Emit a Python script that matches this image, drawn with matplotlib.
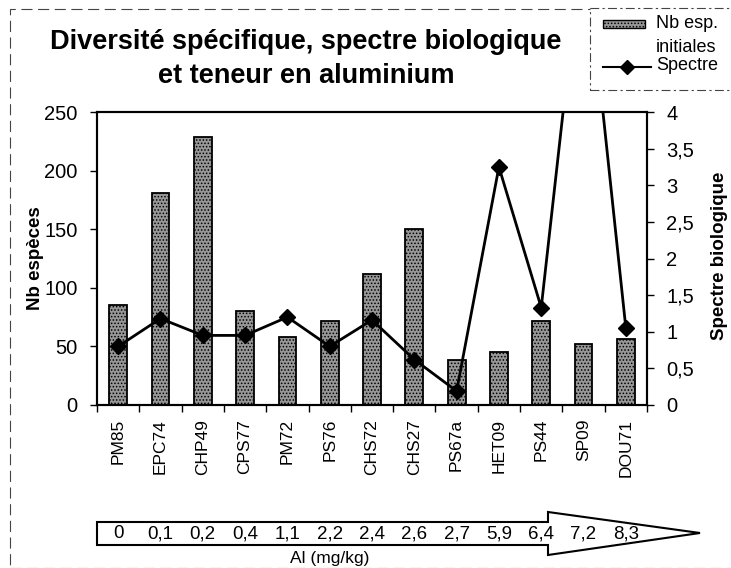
import matplotlib
matplotlib.use("Agg")
import matplotlib.pyplot as plt
import numpy as np
from matplotlib.patches import Rectangle, Polygon
from matplotlib.lines import Line2D
import matplotlib.transforms as mtransforms

plt.rcParams['font.family'] = ['Liberation Sans', 'DejaVu Sans']
plt.rcParams['hatch.linewidth'] = 0.7

# ---- data ----
sites = ["PM85", "EPC74", "CHP49", "CPS77", "PM72", "PS76", "CHS72",
         "CHS27", "PS67a", "HET09", "PS44", "SP09", "DOU71"]
nb_especes = [85, 181, 229, 80, 58, 72, 112, 150, 38, 45, 72, 52, 56]
spectre = [0.80, 1.18, 0.95, 0.95, 1.20, 0.80, 1.16, 0.62, 0.19, 3.25, 1.33, 6.5, 1.05]
al_labels = ["0", "0,1", "0,2", "0,4", "1,1", "2,2", "2,4", "2,6", "2,7",
             "5,9", "6,4", "7,2", "8,3"]
left_ticks = [0, 50, 100, 150, 200, 250]
right_ticks = [0, 0.5, 1, 1.5, 2, 2.5, 3, 3.5, 4]
right_ticklabels = ["0", "0,5", "1", "1,5", "2", "2,5", "3", "3,5", "4"]

W, H = 731, 568
fig = plt.figure(figsize=(W / 100, H / 100), dpi=100)

def fx(x):
    return x / W

def fy(y):
    return 1 - y / H

BAR_FACE = '#979797'

ax = fig.add_axes([fx(97), fy(405), fx(647) - fx(97), fy(112) - fy(405)])
x = np.arange(len(sites))
ax.bar(x, nb_especes, width=0.42, facecolor=BAR_FACE, edgecolor='black',
       hatch='.....', linewidth=1.3, zorder=2)
ax.set_xlim(-0.5, len(sites) - 0.5)
ax.set_ylim(0, 250)
ax.set_yticks(left_ticks)
ax.set_yticklabels([str(t) for t in left_ticks], fontsize=14.5)
ax.set_xticks(x)
ax.set_xticklabels(sites, rotation=90, fontsize=12.5)
ax.tick_params(axis='x', length=0, pad=10)
ax.set_xticks(np.arange(-0.5, len(sites), 1), minor=True)
ax.tick_params(axis='x', which='minor', length=5, width=1, direction='out')
ax.tick_params(axis='y', length=5, width=1, direction='out', pad=9)
for s in ax.spines.values():
    s.set_linewidth(1.5)
ax.set_ylabel("Nb espèces", fontsize=13.5, fontweight='bold')
ax.yaxis.label.set_va('center')
ax.yaxis.set_label_coords((35 - 97) / 550, 0.5)

ax2 = ax.twinx()
ax2.plot(x, spectre, color='black', linewidth=2, marker='D', markersize=8,
         markerfacecolor='black', zorder=3)
ax2.set_ylim(0, 4)
ax2.set_yticks(right_ticks)
ax2.set_yticklabels(right_ticklabels, fontsize=14.5)
ax2.tick_params(axis='y', length=5, width=1, direction='out', pad=9)
ax2.set_ylabel("Spectre biologique", fontsize=13.5, fontweight='bold')
ax2.yaxis.label.set_va('center')
ax2.yaxis.set_label_coords((719 - 97) / 550, 0.51)
for s in ax2.spines.values():
    s.set_linewidth(1.5)

# ---- title ----
fig.text(fx(306), fy(42), "Diversité spécifique, spectre biologique",
         ha='center', va='center', fontsize=19.5, fontweight='bold')
fig.text(fx(306), fy(76), "et teneur en aluminium",
         ha='center', va='center', fontsize=19.5, fontweight='bold')

# ---- outer dashed frame ----
fig.patches.append(Rectangle((fx(10), fy(568)), fx(740) - fx(10), fy(9) - fy(568),
                             transform=fig.transFigure, fill=False,
                             edgecolor='#444444', linewidth=0.8,
                             linestyle=(0, (10, 5))))

# ---- legend (manual) ----
fig.patches.append(Rectangle((fx(590), fy(90)), fx(740) - fx(590), fy(8) - fy(90),
                             transform=fig.transFigure, fill=True, facecolor='white',
                             edgecolor='#444444', linewidth=0.8,
                             linestyle=(0, (8, 3, 2, 3))))
fig.patches.append(Rectangle((fx(603), fy(28)), fx(645) - fx(603), fy(20) - fy(28),
                             transform=fig.transFigure, facecolor=BAR_FACE,
                             edgecolor='black', hatch='.....', linewidth=1))
fig.lines.append(Line2D([fx(603), fx(651)], [fy(67), fy(67)], transform=fig.transFigure,
                        color='black', linewidth=1.5, marker=None))
fig.lines.append(Line2D([fx(627)], [fy(67)], transform=fig.transFigure,
                        color='black', marker='D', markersize=7, linestyle='none'))
fig.text(fx(656), fy(24), "Nb esp.", ha='left', va='center', fontsize=13)
fig.text(fx(656), fy(47), "initiales", ha='left', va='center', fontsize=13)
fig.text(fx(656), fy(66), "Spectre", ha='left', va='center', fontsize=13)

# ---- Al arrow ----
arrow_pts = [(97, 522), (548, 522), (548, 512), (700, 533), (548, 555),
             (548, 545), (97, 545)]
fig.patches.append(Polygon([(fx(a), fy(b)) for a, b in arrow_pts], closed=True,
                           transform=fig.transFigure, facecolor='white',
                           edgecolor='black', linewidth=1.5))
trans = mtransforms.blended_transform_factory(ax.transData, fig.transFigure)
for i, lab in enumerate(al_labels):
    fig.text(i, fy(534), lab, transform=trans, ha='center', va='center',
             fontsize=13.5, family=['Liberation Sans Narrow', 'Liberation Sans'])
fig.text(fx(330), fy(558), "Al (mg/kg)", ha='center', va='center', fontsize=12.5,
         family=['Liberation Sans Narrow', 'Liberation Sans'])

fig.savefig("out.png", dpi=100)
